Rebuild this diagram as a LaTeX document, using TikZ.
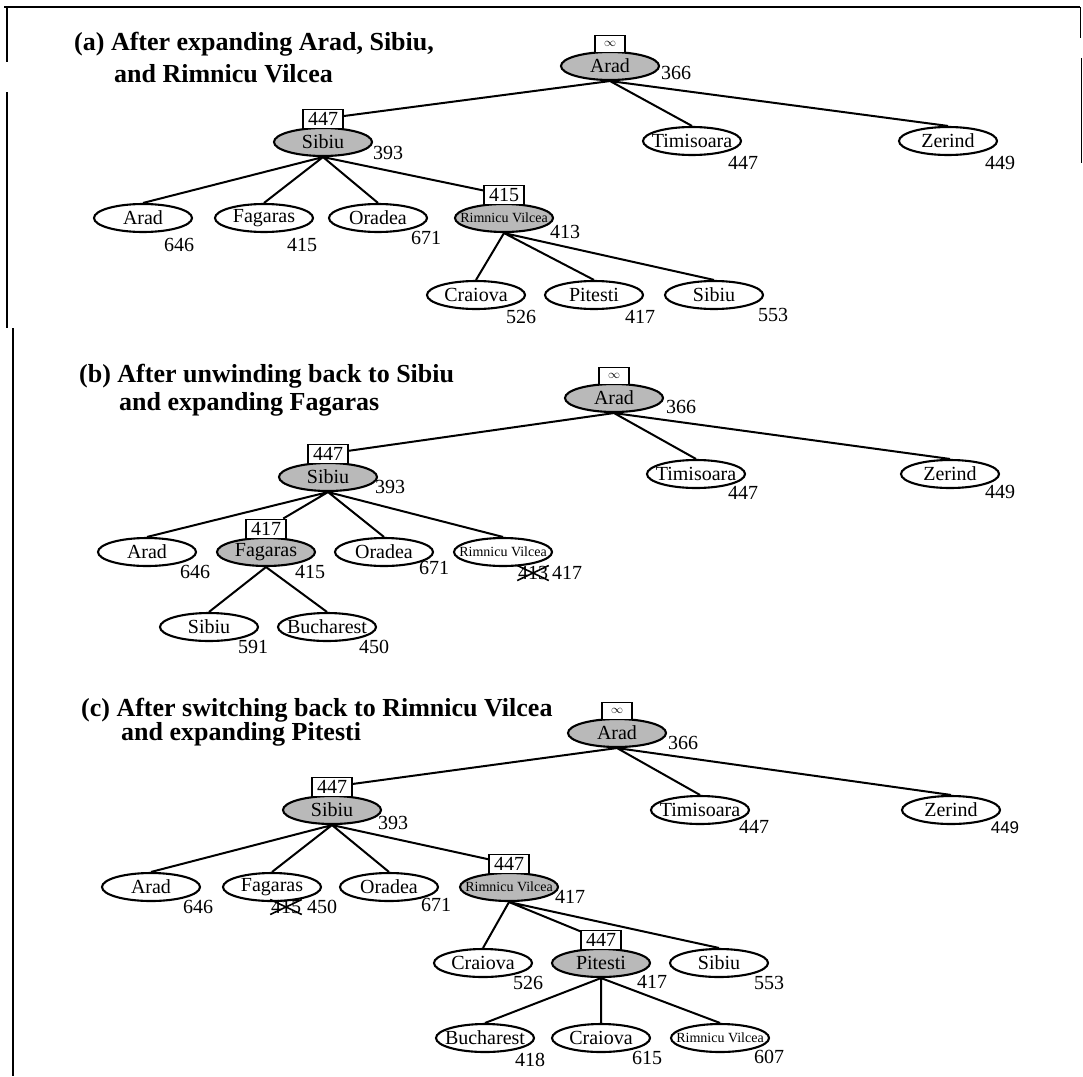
\documentclass[tikz,border=0pt]{standalone}
\usepackage{fontspec}
\setmainfont{Liberation Serif}
\setsansfont{Liberation Sans}
\colorlet{ExpandedNode}{gray!55}
\usetikzlibrary{shapes.geometric, shapes.misc, positioning}

\tikzset{
  city/.style = {ellipse, draw, line width=2.1pt, minimum width=98pt, minimum height=28pt,
    inner xsep=-12pt, inner ysep=0pt, font=\fontsize{20}{20}\selectfont},
  expanded/.style = {city, fill=ExpandedNode},
  longname/.style = {font=\fontsize{14}{14}\selectfont},
  flimit/.style = {draw, fill=white, line width=1.4pt, minimum width=40pt, minimum height=19pt,
    inner sep=0pt, font=\fontsize{20}{20}\selectfont},
  nolimit/.style = {flimit, minimum width=30pt, minimum height=17pt, font=\fontsize{13}{13}\selectfont},
  fcost/.style = {inner sep=0pt, font=\fontsize{20}{20}\selectfont},
  oldcost/.style = {fcost, cross out, draw, line width=1.6pt},
  caption/.style = {anchor=north west, align=left, inner sep=0pt},
  branch/.style = {line width=2pt},
}

\begin{document}
\begin{tikzpicture}[x=1pt, y=-1pt]

\useasboundingbox (0,0) rectangle (1083,1076);

% frame of the scan
\draw[line width=1.5pt] (4,7) -- (1080,7);
\draw[line width=1.5pt] (7,7) -- (7,62) (7,92) -- (7,328);
\draw[line width=1.5pt] (13,328) -- (13,1076);
\draw[line width=1pt] (1080,7) -- (1080,38) (1081,58) -- (1081,163);

% (a)
\node[caption, font=\fontsize{26}{32}\bfseries\selectfont] (aCaption) at (74,32)
  {(a) After expanding Arad, Sibiu,\\\hspace*{40pt}and Rimnicu Vilcea};

\node[expanded] (aArad) at (610,66) {Arad};
\node[nolimit, above=-2pt of aArad] (aAradBox) {$\infty$};
\node[expanded] (aSibiu) at (323,142) {Sibiu};
\node[flimit, above=-2pt of aSibiu] (aSibiuBox) {447};
\node[city] (aTimisoara) at (692,141) {Timisoara};
\node[city] (aZerind) at (948,141) {Zerind};
\node[city] (aArad2) at (143,218) {Arad};
\node[city] (aFagaras) at (264,218) {Fagaras};
\node[city] (aOradea) at (378,218) {Oradea};
\node[expanded, longname] (aRimnicu) at (504,218) {Rimnicu Vilcea};
\node[flimit, above=-2pt of aRimnicu] (aRimnicuBox) {415};
\node[city] (aCraiova) at (476,295) {Craiova};
\node[city] (aPitesti) at (594,295) {Pitesti};
\node[city] (aSibiu2) at (714,295) {Sibiu};

\node[fcost] (aAradCost) at (676,73) {366};
\node[fcost] (aSibiuCost) at (388,153) {393};
\node[fcost] (aTimisoaraCost) at (743,163) {447};
\node[fcost] (aZerindCost) at (1000,163) {449};
\node[fcost] (aArad2Cost) at (179,245) {646};
\node[fcost] (aFagarasCost) at (302,245) {415};
\node[fcost] (aOradeaCost) at (426,238) {671};
\node[fcost] (aRimnicuCost) at (565,232) {413};
\node[fcost] (aCraiovaCost) at (521,317) {526};
\node[fcost] (aPitestiCost) at (640,317) {417};
\node[fcost] (aSibiu2Cost) at (773,315) {553};

\draw[branch] (aArad.south) -- (aSibiuBox)
  (aArad.south) -- (aTimisoara.north)
  (aArad.south) -- (aZerind.north);
\draw[branch] (aSibiu.south) -- (aArad2.north)
  (aSibiu.south) -- (aFagaras.north)
  (aSibiu.south) -- (aOradea.north)
  (aSibiu.south) -- (aRimnicuBox);
\draw[branch] (aRimnicu.south) -- (aCraiova.north)
  (aRimnicu.south) -- (aPitesti.north)
  (aRimnicu.south) -- (aSibiu2.north);

% (b)
\node[caption, font=\fontsize{26}{28}\bfseries\selectfont] (bCaption) at (79,364)
  {(b) After unwinding back to Sibiu\\\hspace*{40pt}and expanding Fagaras};

\node[expanded] (bArad) at (614,398) {Arad};
\node[nolimit, above=-2pt of bArad] (bAradBox) {$\infty$};
\node[expanded] (bSibiu) at (328,477) {Sibiu};
\node[flimit, above=-2pt of bSibiu] (bSibiuBox) {447};
\node[city] (bTimisoara) at (696,474) {Timisoara};
\node[city] (bZerind) at (950,474) {Zerind};
\node[city] (bArad2) at (147,552) {Arad};
\node[expanded] (bFagaras) at (266,552) {Fagaras};
\node[flimit, above=-2pt of bFagaras] (bFagarasBox) {417};
\node[city] (bOradea) at (384,552) {Oradea};
\node[city, longname] (bRimnicu) at (503,552) {Rimnicu Vilcea};
\node[city] (bSibiu2) at (209,627) {Sibiu};
\node[city] (bBucharest) at (327,627) {Bucharest};

\node[fcost] (bAradCost) at (681,407) {366};
\node[fcost] (bSibiuCost) at (390,487) {393};
\node[fcost] (bTimisoaraCost) at (743,493) {447};
\node[fcost] (bZerindCost) at (1000,492) {449};
\node[fcost] (bArad2Cost) at (195,572) {646};
\node[fcost] (bFagarasCost) at (310,572) {415};
\node[fcost] (bOradeaCost) at (434,568) {671};
\node[oldcost] (bRimnicuOld) at (533,573) {413};
\node[fcost] (bRimnicuCost) at (567,573) {417};
\node[fcost] (bSibiu2Cost) at (253,647) {591};
\node[fcost] (bBucharestCost) at (374,647) {450};

\draw[branch] (bArad.south) -- (bSibiuBox)
  (bArad.south) -- (bTimisoara.north)
  (bArad.south) -- (bZerind.north);
\draw[branch] (bSibiu.south) -- (bArad2.north)
  (bSibiu.south) -- (bFagarasBox)
  (bSibiu.south) -- (bOradea.north)
  (bSibiu.south) -- (bRimnicu.north);
\draw[branch] (bFagaras.south) -- (bSibiu2.north)
  (bFagaras.south) -- (bBucharest.north);

% (c)
\node[caption, font=\fontsize{26}{24}\bfseries\selectfont] (cCaption) at (81,698)
  {(c) After switching back to Rimnicu Vilcea\\\hspace*{40pt}and expanding Pitesti};

\node[expanded] (cArad) at (617,733) {Arad};
\node[nolimit, above=-2pt of cArad] (cAradBox) {$\infty$};
\node[expanded] (cSibiu) at (332,810) {Sibiu};
\node[flimit, above=-2pt of cSibiu] (cSibiuBox) {447};
\node[city] (cTimisoara) at (700,810) {Timisoara};
\node[city] (cZerind) at (951,810) {Zerind};
\node[city] (cArad2) at (151,887) {Arad};
\node[city] (cFagaras) at (272,887) {Fagaras};
\node[city] (cOradea) at (389,887) {Oradea};
\node[expanded, longname] (cRimnicu) at (509,887) {Rimnicu Vilcea};
\node[flimit, above=-2pt of cRimnicu] (cRimnicuBox) {447};
\node[city] (cCraiova) at (483,963) {Craiova};
\node[expanded] (cPitesti) at (601,963) {Pitesti};
\node[flimit, above=-2pt of cPitesti] (cPitestiBox) {447};
\node[city] (cSibiu2) at (719,963) {Sibiu};
\node[city] (cBucharest) at (485,1038) {Bucharest};
\node[city] (cCraiova2) at (601,1038) {Craiova};
\node[city, longname] (cRimnicu2) at (720,1038) {Rimnicu Vilcea};

\node[fcost] (cAradCost) at (683,743) {366};
\node[fcost] (cSibiuCost) at (393,823) {393};
\node[fcost] (cTimisoaraCost) at (754,827) {447};
\node[fcost, font=\sffamily\fontsize{17}{17}\selectfont] (cZerindCost) at (1005,828) {449};
\node[fcost] (cArad2Cost) at (198,907) {646};
\node[oldcost] (cFagarasOld) at (286,907) {415};
\node[fcost] (cFagarasCost) at (322,907) {450};
\node[fcost] (cOradeaCost) at (436,905) {671};
\node[fcost] (cRimnicuCost) at (570,897) {417};
\node[fcost] (cCraiovaCost) at (528,983) {526};
\node[fcost] (cPitestiCost) at (652,982) {417};
\node[fcost] (cSibiu2Cost) at (769,983) {553};
\node[fcost] (cBucharestCost) at (530,1060) {418};
\node[fcost] (cCraiova2Cost) at (647,1058) {615};
\node[fcost] (cRimnicu2Cost) at (769,1057) {607};

\draw[branch] (cArad.south) -- (cSibiuBox)
  (cArad.south) -- (cTimisoara.north)
  (cArad.south) -- (cZerind.north);
\draw[branch] (cSibiu.south) -- (cArad2.north)
  (cSibiu.south) -- (cFagaras.north)
  (cSibiu.south) -- (cOradea.north)
  (cSibiu.south) -- (cRimnicuBox);
\draw[branch] (cRimnicu.south) -- (cCraiova.north)
  (cRimnicu.south) -- (cPitestiBox)
  (cRimnicu.south) -- (cSibiu2.north);
\draw[branch] (cPitesti.south) -- (cBucharest.north)
  (cPitesti.south) -- (cCraiova2.north)
  (cPitesti.south) -- (cRimnicu2.north);

\end{tikzpicture}
\end{document}
